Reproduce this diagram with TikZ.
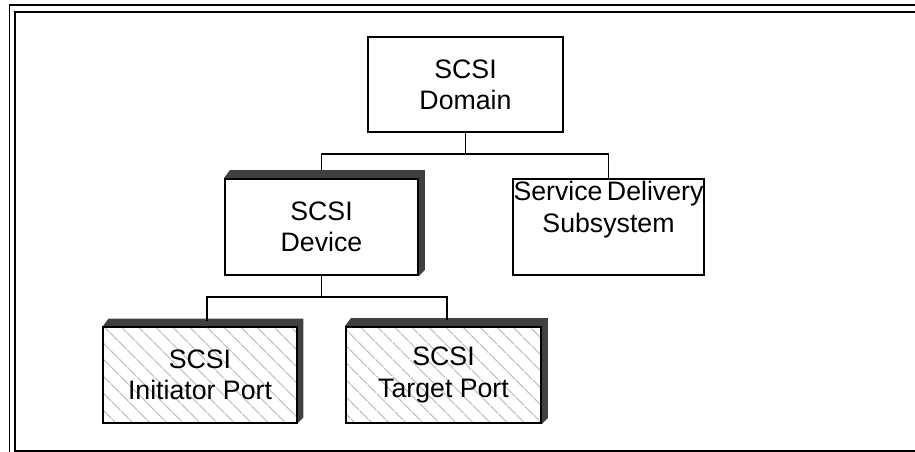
\documentclass[tikz,border=0pt]{standalone}
\usepackage{fontspec}
\setmainfont{Liberation Sans}
\usetikzlibrary{calc,backgrounds,patterns.meta}

\definecolor{bevelgray}{RGB}{64,64,64}
\definecolor{hatchgray}{RGB}{165,165,165}

\begin{document}
\begin{tikzpicture}[
        unit/.style={draw, line width=1.1pt, fill=white, minimum width=3.86cm, minimum height=1.92cm,
            align=center, inner sep=0pt, font=\fontsize{15.2}{17.8}\selectfont},
        port/.style={unit, fill=none, preaction={fill=white},
            pattern={Lines[angle=-45, distance=7.4pt, line width=0.5pt]}, pattern color=hatchgray},
        link/.style={line width=1pt}
    ]

        \useasboundingbox (0,0) rectangle (18.3,9.04);

        % frame
        \draw[line width=1.1pt] (0.19,-0.1) -- (0.19,8.94) -- (18.4,8.94);
        \draw[line width=1.1pt] (18.4,0.02) -- (0.30,0.02) -- (0.30,8.80) -- (18.4,8.80);

        \node[unit, minimum width=3.9cm, minimum height=1.9cm] (dom) at (9.31,7.35) {SCSI\\Domain};
        \node[unit] (dev) at (6.43,4.5) {SCSI\\Device};
        \node[unit, minimum width=3.82cm] (sds) at (12.17,4.5) {};
        \node[anchor=north, inner sep=0pt, font=\fontsize{15.2}{17.8}\selectfont, align=center]
            (sdstext) at ([yshift=-0.06cm]sds.north) {Service\,Delivery\\Subsystem};
        \node[port, minimum width=3.88cm] (ini) at (4.0,1.54) {SCSI\\Initiator Port};
        \node[port, minimum width=3.9cm] (tgt) at (8.87,1.54) {SCSI\\Target Port};

        % raised edges
        \begin{scope}[on background layer]
            \foreach \n in {dev,ini,tgt}
                \fill[bevelgray] (\n.north west) -- ++(0.12,0.16) -- ($(\n.north east)+(0.12,0.16)$)
                    -- ($(\n.south east)+(0.12,0.12)$) -- (\n.south east) -- cycle;
        \end{scope}

        \coordinate (busA) at (9.31,5.96);
        \coordinate (busB) at (6.43,3.1);

        \draw[link] (dom.south) -- (busA);
        \draw[link] ([yshift=0.16cm]dev.north) |- (busA) -| (sds.north);
        \draw[link] (dev.south) -- (busB);
        \draw[link] ([shift={(0.14,0.12)}]ini.north) |- (busB) -| ([shift={(0.07,0.12)}]tgt.north);

    \end{tikzpicture}
\end{document}
